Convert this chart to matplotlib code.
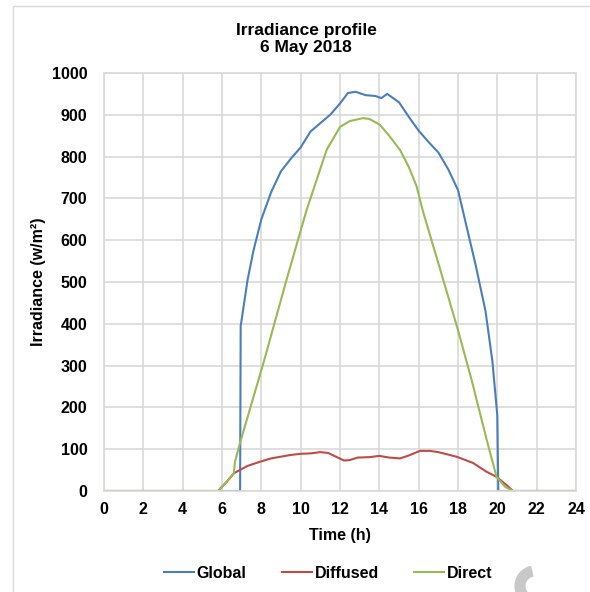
import matplotlib
matplotlib.use("Agg")
import matplotlib.pyplot as plt
from matplotlib.lines import Line2D
from matplotlib.patches import Arc

plt.rcParams['font.family'] = ['Liberation Sans', 'DejaVu Sans']
plt.rcParams['font.weight'] = 'bold'

# ---- data (hours, W/m2) ----
global_t = [0, 6.92, 6.95, 7.0, 7.3, 7.6, 8.0, 8.5, 9.0, 9.5, 10.0, 10.5, 11.0, 11.5, 12.0,
            12.4, 12.8, 13.3, 13.8, 14.1, 14.4, 14.7, 15.0, 15.5, 16.0, 16.5, 17.0,
            17.5, 18.0, 18.35, 18.9, 19.4, 19.75, 20.0, 20.05, 24]
global_v = [0, 0, 395, 410, 505, 575, 650, 715, 765, 795, 822, 860, 880, 900, 927,
            952, 955, 947, 945, 940, 950, 940, 930, 895, 862, 835, 810,
            770, 720, 650, 540, 430, 310, 180, 0, 0]

diffuse_t = [0, 5.8, 6.2, 6.6, 6.74, 7.3, 7.93, 8.5, 9.46, 10.0, 10.5, 11.0, 11.4, 11.8,
             12.2, 12.5, 12.9, 13.5, 14.0, 14.5, 15.05, 15.5, 16.07, 16.57, 17.0,
             17.93, 18.77, 19.45, 19.96, 20.47, 20.8, 24]
diffuse_v = [0, 0, 20, 42, 46, 60, 70, 78, 86, 89, 90, 93, 91, 82,
             73, 74, 80, 81, 84, 80, 78, 85, 96, 96, 93,
             82, 67, 46, 34, 14, 0, 0]

direct_t = [0, 5.8, 6.2, 6.6, 6.66, 6.91, 8.1, 9.28, 10.3, 11.32, 12.0, 12.5, 13.17, 13.5,
            14.03, 14.5, 15.05, 15.5, 15.9, 16.2, 17.0, 18.0, 18.69, 19.5, 19.96,
            20.4, 20.8, 24]
direct_v = [0, 0, 20, 42, 70, 114, 305, 505, 672, 816, 871, 885, 892, 890,
            876, 850, 816, 775, 728, 672, 545, 385, 266, 115, 34,
            10, 0, 0]

x_ticks = list(range(0, 25, 2))
y_ticks = list(range(0, 1001, 100))

c_global = '#4a7ebb'
c_diffuse = '#be4b48'
c_direct = '#98b954'
grid_c = '#d9d9d9'

fig = plt.figure(figsize=(5.9, 5.92), dpi=100)
ax = fig.add_axes([104/590, 1-491/592, 472/590, 418/592])

ax.plot(global_t, global_v, color=c_global, lw=1.5, label='Global')
ax.plot(diffuse_t, diffuse_v, color=c_diffuse, lw=1.5, label='Diffused')
ax.plot(direct_t, direct_v, color=c_direct, lw=1.5, label='Direct')

ax.set_xlim(0, 24)
ax.set_ylim(0, 1000)
ax.set_xticks(x_ticks)
ax.set_yticks(y_ticks)
ax.grid(True, color=grid_c, lw=1.2)
ax.set_axisbelow(True)
for s in ax.spines.values():
    s.set_color(grid_c)
    s.set_linewidth(1.2)
ax.tick_params(length=0, labelsize=11.5, pad=8)
ax.tick_params(axis='y', pad=12)
for lab in ax.get_xticklabels() + ax.get_yticklabels():
    lab.set_fontweight('bold')

ax.set_xlabel('Time (h)', fontsize=11.5, fontweight='bold')
ax.set_ylabel('Irradiance (w/m²)', fontsize=11.5, fontweight='bold')
ax.xaxis.set_label_coords(0.5, -0.088)
ax.yaxis.set_label_coords(-0.122, 0.5)

fig.text(306/590, 1-39/592, 'Irradiance profile\n6 May 2018', ha='center', va='center',
         fontsize=12.5, fontweight='bold', linespacing=1.2)

handles = [Line2D([], [], color=c, lw=1.5) for c in (c_global, c_diffuse, c_direct)]
fig.legend(handles, ['Global', 'Diffused', 'Direct'], loc='center',
           bbox_to_anchor=(328/590, 1-573/592), ncol=3, frameon=False,
           prop={'size': 11.5, 'weight': 'bold'}, handlelength=1.9,
           handletextpad=0.15, columnspacing=2.2)

# outer chart frame
fig.add_artist(Line2D([12.5/590, 12.5/590], [0, 1-6/592], color=grid_c, lw=1,
                      transform=fig.transFigure))
fig.add_artist(Line2D([12.5/590, 1], [1-6/592, 1-6/592], color=grid_c, lw=1,
                      transform=fig.transFigure))
# grey mark in the lower right corner
fig.add_artist(Arc((535/590, 1-586/592), 30/590, 30/592, theta1=100, theta2=260,
                   color='#c8c8c8', lw=8, transform=fig.transFigure))

fig.savefig('out.png', dpi=100)
